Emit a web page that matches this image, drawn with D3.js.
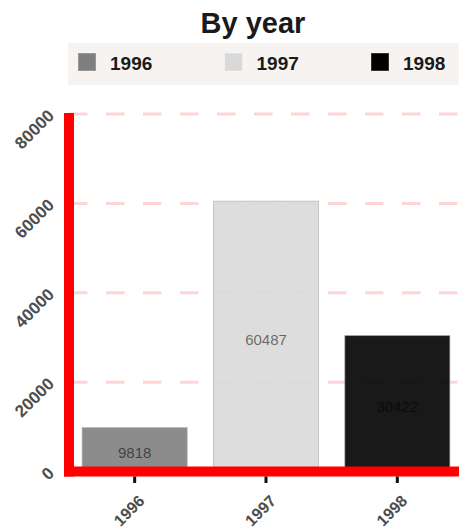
<!DOCTYPE html>
<html>
<head>
<meta charset="utf-8">
<script src="https://cdnjs.cloudflare.com/ajax/libs/d3/7.8.5/d3.min.js"></script>
<style>
  body { margin: 0; background: #fff; }
  text { font-family: "Liberation Sans", Arial, sans-serif; }
</style>
</head>
<body>
<div id="chart"></div>
<script>
// data
var years = ["1996", "1997", "1998"];
var counts = [9818, 60487, 30422];
var fills = ["#7f7f7f", "#d9d9d9", "#000000"];
var yTicks = [0, 20000, 40000, 60000, 80000];

/* ****** Size ****** */
var width = 459;
var height = 531;

var margin = {
    top: 114,
    right: -4,
    bottom: 59.5,
    left: 69
};

var svg = d3.select("#chart")
    .append("svg")
    .attr("width", width)
    .attr("height", height);

/* ****** Scales ****** */
var x = d3.scaleBand()
    .domain(years)
    .range([margin.left, width - margin.right])
    .paddingInner(0.2)
    .paddingOuter(0.1);

var y = d3.scaleLinear()
    .domain([0, 80000])
    .range([height - margin.bottom, margin.top]);

var color = d3.scaleOrdinal()
    .domain(years)
    .range(fills);

/* ****** Title ****** */
svg.append("text")
    .attr("x", 253)
    .attr("y", 33)
    .attr("text-anchor", "middle")
    .style("font-size", "29px")
    .style("font-weight", "bold")
    .style("fill", "#1a1a1a")
    .text("By year");

/* ****** Legend ****** */
svg.append("rect")
    .attr("x", 68)
    .attr("y", 43)
    .attr("width", 400)
    .attr("height", 42)
    .attr("fill", "#f6f3f0");

var legend = svg.selectAll(".legend-item")
    .data(years)
    .enter()
    .append("g")
    .attr("class", "legend-item")
    .attr("transform", function(d, i) {
        return "translate(" + (78 + i * 146.5) + ",53)";
    });

legend.append("rect")
    .attr("width", 18)
    .attr("height", 18)
    .attr("fill", function(d) { return color(d); })
    .attr("stroke", "rgba(255,255,255,0.4)")
    .attr("stroke-width", 1);

legend.append("text")
    .attr("x", 32)
    .attr("y", 16.5)
    .style("font-size", "19px")
    .style("font-weight", "bold")
    .style("fill", "#1a1a1a")
    .text(function(d) { return d; });

/* ****** Grid lines ****** */
svg.append("g")
    .selectAll("line")
    .data(yTicks.slice(1))
    .enter()
    .append("line")
    .attr("x1", margin.left)
    .attr("x2", width)
    .attr("y1", function(d) { return y(d); })
    .attr("y2", function(d) { return y(d); })
    .attr("stroke", "red")
    .attr("stroke-opacity", 0.17)
    .attr("stroke-width", 3)
    .attr("stroke-dasharray", "18.5 18.5");

/* ****** Bars ****** */
svg.append("g")
    .selectAll("rect")
    .data(years)
    .enter()
    .append("rect")
    .attr("x", function(d) { return x(d); })
    .attr("width", x.bandwidth())
    .attr("y", function(d, i) { return y(counts[i]); })
    .attr("height", function(d, i) { return y(0) - y(counts[i]); })
    .attr("fill", function(d) { return color(d); })
    .attr("fill-opacity", 0.9)
    .attr("stroke", "rgba(170,170,170,0.6)")
    .attr("stroke-width", 1);

/* ****** Value labels ****** */
svg.append("g")
    .selectAll("text")
    .data(years)
    .enter()
    .append("text")
    .attr("x", function(d) { return x(d) + x.bandwidth() / 2; })
    .attr("y", function(d, i) { return y(counts[i] / 2) + 3.5; })
    .attr("dy", "0.35em")
    .attr("text-anchor", "middle")
    .style("font-size", "15px")
    .style("fill", "#000")
    .style("fill-opacity", 0.55)
    .text(function(d, i) { return counts[i]; });

/* ****** Axis lines ****** */
var axisY = y(0);
svg.append("line")
    .attr("x1", margin.left)
    .attr("x2", margin.left)
    .attr("y1", margin.top - 1)
    .attr("y2", axisY + 5)
    .attr("stroke", "red")
    .attr("stroke-width", 10);

svg.append("line")
    .attr("x1", margin.left - 5)
    .attr("x2", width)
    .attr("y1", axisY)
    .attr("y2", axisY)
    .attr("stroke", "red")
    .attr("stroke-width", 10);

/* ****** X ticks + labels ****** */
var xTicks = svg.append("g")
    .selectAll("g")
    .data(years)
    .enter()
    .append("g")
    .attr("transform", function(d) {
        return "translate(" + (x(d) + x.bandwidth() / 2) + ",0)";
    });

xTicks.append("line")
    .attr("y1", axisY + 5)
    .attr("y2", axisY + 11.5)
    .attr("stroke", "#111")
    .attr("stroke-width", 3);

xTicks.append("text")
    .attr("transform", "translate(7," + (axisY + 26.5) + ") rotate(-45)")
    .attr("dy", "0.35em")
    .attr("text-anchor", "end")
    .style("font-size", "16px")
    .style("font-weight", "bold")
    .style("fill", "#4d4d4d")
    .text(function(d) { return d; });

/* ****** Y labels ****** */
svg.append("g")
    .selectAll("text")
    .data(yTicks)
    .enter()
    .append("text")
    .attr("transform", function(d) {
        return "translate(51," + (y(d) - 1.5) + ") rotate(-45)";
    })
    .attr("dy", "0.35em")
    .attr("text-anchor", "end")
    .style("font-size", "17px")
    .style("font-weight", "bold")
    .style("fill", "#4d4d4d")
    .text(function(d) { return d; });
</script>
</body>
</html>
